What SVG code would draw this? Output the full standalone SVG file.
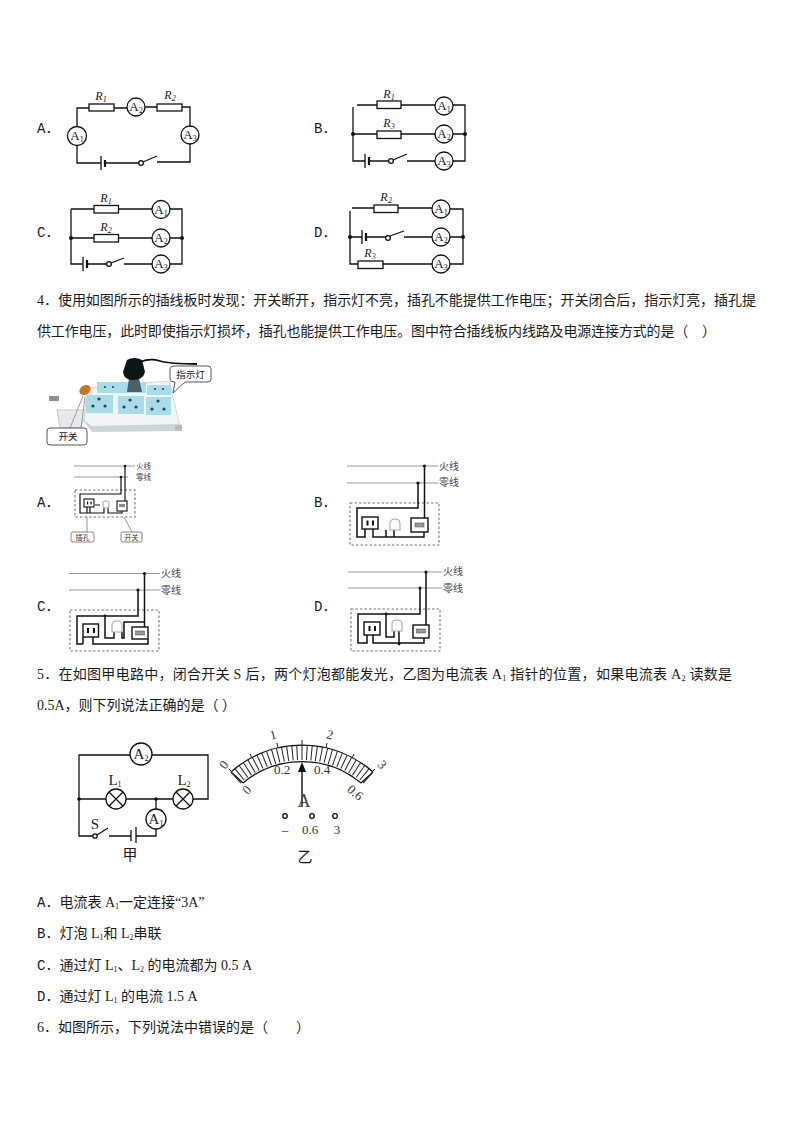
<svg xmlns="http://www.w3.org/2000/svg" width="794" height="1123" viewBox="0 0 794 1123">
<style>
text{fill:#1a1a1a}
.t{font-family:"Liberation Serif","Noto Sans CJK SC",serif;font-size:14px}
.s{font-family:"Liberation Serif","Noto Sans CJK SC",serif;font-size:15px}
.opt{font-family:"Liberation Mono","Noto Sans CJK SC",monospace;font-size:14px}
.w{fill:none;stroke:#111;stroke-width:1.3}
.r{fill:#fff;stroke:#111;stroke-width:1.3}
.m{fill:#fff;stroke:#111;stroke-width:1.3}
.lab{font-family:"Liberation Serif",serif;font-size:13px;text-anchor:middle}
.it{font-family:"Liberation Serif",serif;font-size:12px;font-style:italic;text-anchor:middle}
.sub{font-size:8px}
.d{fill:#111}
.g{fill:none;stroke:#999;stroke-width:1.2}
.b{fill:none;stroke:#111;stroke-width:1.5}
.box{fill:none;stroke:#777;stroke-width:1.1;stroke-dasharray:2.5 2}
.sk{fill:#fff;stroke:#111;stroke-width:1.4}
.lamp{fill:#fff;stroke:#aaa;stroke-width:1.1}
.c{font-family:"Noto Sans CJK SC",sans-serif;font-size:10px;fill:#444}
.c2{font-family:"Noto Sans CJK SC",sans-serif;font-size:7px;fill:#333;text-anchor:middle}
.tick{stroke:#222;stroke-width:1}
.ml{font-family:"Liberation Serif",serif;font-size:13px;text-anchor:middle;fill:#333}
.call{fill:#fff;stroke:#555;stroke-width:1}
.pin{fill:#111}
</style>
<defs>
<filter id="soft"><feGaussianBlur stdDeviation="0.5"/></filter>
</defs>
<rect width="794" height="1123" fill="#fff"/>

<g id="circuit-a">
<path class="w" d="M77 126V108H89M114 108H127M145 107H157M182 107H190V126M190 144V162H157M157 156L143 162M139 163H105M101 163H77V146"/>
<path class="w" d="M101 156V170"/><path d="M105 160V167" stroke="#111" stroke-width="2.200"/>
<rect class="r" x="89" y="104" width="25" height="7"/><rect class="r" x="157" y="104" width="25" height="7"/>
<circle class="m" cx="77" cy="136" r="9.500"/><circle class="m" cx="136" cy="107" r="9"/><circle class="m" cx="190" cy="135" r="9"/><circle class="m" cx="141" cy="163" r="2.400"/>
<text class="it" x="101" y="100">R<tspan class="sub" dy="2">1</tspan></text><text class="it" x="170" y="99">R<tspan class="sub" dy="2">2</tspan></text>
<text class="lab" x="77" y="140">A<tspan class="sub" dy="2">1</tspan></text><text class="lab" x="136" y="111">A<tspan class="sub" dy="2">2</tspan></text><text class="lab" x="190" y="139">A<tspan class="sub" dy="2">3</tspan></text>
</g>

<g id="circuit-b">
<path class="w" d="M357 105H377M401 105H435M453 105H465V161H453M353 107V161H365M369 161H389M393 160L407 154M407 161H435M353 134H377M401 134H435M453 134H465"/>
<path class="w" d="M365 154V168"/><path d="M369 157V165" stroke="#111" stroke-width="2.200"/>
<rect class="r" x="377" y="101" width="24" height="7.500"/><rect class="r" x="377" y="131" width="24" height="7.500"/>
<circle class="m" cx="444" cy="106" r="9"/><circle class="m" cx="444" cy="134" r="9"/><circle class="m" cx="444" cy="161" r="9"/><circle class="m" cx="391" cy="161" r="2.400"/>
<circle class="d" cx="353" cy="134" r="2"/><circle class="d" cx="465" cy="134" r="2"/>
<text class="it" x="389" y="98">R<tspan class="sub" dy="2">1</tspan></text><text class="it" x="389" y="127">R<tspan class="sub" dy="2">3</tspan></text>
<text class="lab" x="444" y="110">A<tspan class="sub" dy="2">1</tspan></text><text class="lab" x="444" y="138">A<tspan class="sub" dy="2">2</tspan></text><text class="lab" x="444" y="165">A<tspan class="sub" dy="2">3</tspan></text>
</g>

<g id="circuit-c">
<path class="w" d="M71 209H94M118 209H152M170 209H182V264H170M71 209V264H83M87 264H107M111 263L124 258M124 264H152M71 238H94M118 238H152M170 238H182"/>
<path class="w" d="M83 257V271"/><path d="M87 260V268" stroke="#111" stroke-width="2.200"/>
<rect class="r" x="94" y="205.500" width="24.500" height="7.500"/><rect class="r" x="94" y="234.500" width="24.500" height="7.500"/>
<circle class="m" cx="161" cy="209.500" r="9"/><circle class="m" cx="161" cy="238" r="9"/><circle class="m" cx="161" cy="264" r="9"/><circle class="m" cx="109" cy="264" r="2.400"/>
<circle class="d" cx="71" cy="238" r="2"/><circle class="d" cx="182" cy="238" r="2"/>
<text class="it" x="106" y="202">R<tspan class="sub" dy="2">1</tspan></text><text class="it" x="106" y="231">R<tspan class="sub" dy="2">2</tspan></text>
<text class="lab" x="161" y="213.500">A<tspan class="sub" dy="2">1</tspan></text><text class="lab" x="161" y="242">A<tspan class="sub" dy="2">2</tspan></text><text class="lab" x="161" y="268">A<tspan class="sub" dy="2">3</tspan></text>
</g>

<g id="circuit-d">
<path class="w" d="M352 208H374M398 208H432M450 209H463V264H450M350 211V264H358M383 264H432M350 237H362M366 237H386M390 236L404 231M404 237H432M450 237H463"/>
<path class="w" d="M362 230V244"/><path d="M366 233V241" stroke="#111" stroke-width="2.200"/>
<rect class="r" x="374" y="205" width="24" height="7.500"/><rect class="r" x="358" y="261" width="25" height="7.500"/>
<circle class="m" cx="441" cy="209" r="9"/><circle class="m" cx="441" cy="237" r="9"/><circle class="m" cx="441" cy="264" r="9"/><circle class="m" cx="388" cy="238" r="2.400"/>
<circle class="d" cx="350" cy="237" r="2"/><circle class="d" cx="463" cy="237" r="2"/>
<text class="it" x="386" y="201">R<tspan class="sub" dy="2">2</tspan></text><text class="it" x="370" y="257">R<tspan class="sub" dy="2">3</tspan></text>
<text class="lab" x="441" y="213">A<tspan class="sub" dy="2">1</tspan></text><text class="lab" x="441" y="241">A<tspan class="sub" dy="2">2</tspan></text><text class="lab" x="441" y="268">A<tspan class="sub" dy="2">3</tspan></text>
</g>

<g id="option-labels-1">
<text class="opt" x="37" y="133">A．</text><text class="opt" x="314" y="133">B．</text><text class="opt" x="37" y="237">C．</text><text class="opt" x="314" y="237">D．</text>
</g>

<g id="question-4">
<text class="t" x="37" y="305" textLength="719">4．使用如图所示的插线板时发现：开关断开，指示灯不亮，插孔不能提供工作电压；开关闭合后，指示灯亮，插孔提</text>
<text class="t" x="37" y="336" textLength="679">供工作电压，此时即使指示灯损坏，插孔也能提供工作电压。图中符合插线板内线路及电源连接方式的是（　）</text>
</g>

<g id="power-strip">
<g filter="url(#soft)">
<path d="M57 410H88L80 428H60Z" fill="#e6eaea" stroke="#bbb" stroke-width=".8"/>
<rect x="49" y="396" width="10" height="5" fill="#8f8f8f"/>
<path d="M87 388L169 381L178 418L181 430L92 431L84 422Z" fill="#f0f5f6" stroke="#cfd6d8" stroke-width="1"/>
<path d="M84 420L92 426L181 424V431L92 432Z" fill="#cdd5d8"/>
<path d="M175 425H182V431H175Z" fill="#bbb"/>
<g fill="#a9dce8">
<rect x="97" y="382" width="26" height="11"/><rect x="122" y="382" width="24" height="11"/><rect x="147" y="385" width="24" height="10"/>
<rect x="86" y="395" width="27" height="18"/><rect x="118" y="396" width="26" height="18"/><rect x="146" y="397" width="25" height="18"/>
</g>
<g fill="#1f4a55">
<circle cx="99" cy="399" r="1.600"/><circle cx="93" cy="406" r="1.600"/><circle cx="105" cy="406" r="1.600"/>
<circle cx="130" cy="400" r="1.600"/><circle cx="124" cy="407" r="1.600"/><circle cx="136" cy="407" r="1.600"/>
<circle cx="158" cy="401" r="1.600"/><circle cx="152" cy="409" r="1.600"/><circle cx="164" cy="409" r="1.600"/>
<circle cx="105" cy="387" r="1.100"/><circle cx="113" cy="387" r="1.100"/><circle cx="155" cy="389" r="1.100"/><circle cx="163" cy="389" r="1.100"/>
</g>
<ellipse cx="85" cy="390" rx="6" ry="4.500" fill="#c87728" transform="rotate(-30 85 390)"/>
<path d="M127 392L129 378H139L142 392Z" fill="#4d5f66"/>
<path d="M127 360Q134 356 142 360L145 372Q143 380 133 380Q124 380 123 372Z" fill="#101214"/>
<path d="M140 362Q150 358 160 361T197 364" fill="none" stroke="#111" stroke-width="1.800"/>
</g>
<path class="call" d="M174 366H208Q211 366 211 369V379Q211 382 208 382H185L173 393L175 382H174Q170 382 170 379V369Q170 366 174 366Z"/>
<path d="M83 396L70 428M85 397L81 428" stroke="#888" stroke-width=".8" fill="none"/>
<rect class="call" x="47" y="428" width="40" height="17" rx="3"/>
<text class="t" x="190.500" y="378" style="font-size:9.500px" text-anchor="middle">指示灯</text>
<text class="t" x="68" y="440" style="font-size:9.500px" text-anchor="middle">开关</text>
</g>

<g id="wiring-a">
<path class="g" d="M74 466H135M74 477H128"/>
<rect class="box" x="75" y="490" width="60" height="27"/>
<path class="b" style="stroke-width:1.200" d="M125 466V501M121 477V494H80V513H87V507M87 513H92M90 507V513H104V507M108 507V513H122V511M95 505H100"/>
<circle class="d" cx="125" cy="466" r="1.300"/><circle class="d" cx="121" cy="477" r="1.300"/>
<rect class="sk" style="stroke-width:1.100" x="84" y="499" width="10" height="8"/>
<rect class="lamp" x="103" y="501" width="6" height="7" rx="2"/>
<rect class="sk" style="stroke-width:1.100" x="117" y="501" width="10" height="10"/><rect x="119" y="504" width="6" height="3" fill="#888"/>
<rect class="pin" x="87" y="501.500" width="1.200" height="3"/><rect class="pin" x="90.500" y="501.500" width="1.200" height="3"/>
<path d="M87 517V532M124 517L132 532" stroke="#666" stroke-width=".7" fill="none"/>
<rect class="call" style="stroke-width:.7" x="71" y="532" width="23" height="10" rx="2"/><rect class="call" style="stroke-width:.7" x="121" y="532" width="21" height="10" rx="2"/>
<text class="c2" x="82.500" y="540">插孔</text><text class="c2" x="131.500" y="540">开关</text>
<text class="c" x="136" y="469" style="font-size:7.500px">火线</text><text class="c" x="136" y="480" style="font-size:7.500px">零线</text>
</g>

<g id="wiring-b">
<path class="g" d="M347 466H438M347 483H438"/>
<rect class="box" x="350" y="503" width="89" height="42"/>
<path class="b" d="M424.500 466V518M418 483V508H357V537H365V529M373 529V537H424V532M386 537V530M394 537V530"/>
<circle class="d" cx="424.500" cy="466" r="1.600"/><circle class="d" cx="418" cy="483" r="1.600"/>
<rect class="sk" x="362" y="517" width="16" height="12"/><rect class="pin" x="366.500" y="520.500" width="2" height="5"/><rect class="pin" x="372" y="520.500" width="2" height="5"/>
<path class="lamp" d="M390 530V524Q390 519 395 519Q400 519 400 524V530Z"/>
<rect class="sk" x="411" y="518" width="17" height="14"/><rect x="415" y="523" width="9" height="4" fill="#999" stroke="#444" stroke-width=".5"/>
<text class="c" x="439" y="470">火线</text><text class="c" x="439" y="486">零线</text>
</g>

<g id="wiring-c">
<path class="g" d="M69 573.500H160M69 590H160"/>
<rect class="box" x="70" y="610" width="89" height="41"/>
<path class="b" d="M144.500 573.500V627M138 590V616H77V644H83M83 637V644M93 637V644H148V639M105 616V638H114V632M122 632V638H124V622H144"/>
<circle class="d" cx="144.500" cy="573.500" r="1.600"/><circle class="d" cx="138" cy="590" r="1.600"/><circle class="d" cx="105" cy="616" r="1.400"/>
<rect class="sk" x="83" y="624" width="15.500" height="13"/><rect class="pin" x="87" y="628" width="2" height="5"/><rect class="pin" x="93" y="628" width="2" height="5"/>
<path class="lamp" d="M112 632V625Q112 621 117 621Q122 621 122 625V632Z"/>
<rect class="sk" x="132" y="627" width="16" height="12"/><rect x="135.500" y="631" width="9" height="4" fill="#999" stroke="#444" stroke-width=".5"/>
<text class="c" x="161" y="577">火线</text><text class="c" x="161" y="594">零线</text>
</g>

<g id="wiring-d">
<path class="g" d="M348 572H442M348 588H442"/>
<rect class="box" x="351" y="609" width="89" height="42"/>
<path class="b" d="M426 572V625M420 588V614H358V643H367V635M373 635V643H424V638M386 614V637H394V630M399 630V644"/>
<circle class="d" cx="426" cy="572" r="1.600"/><circle class="d" cx="420" cy="588" r="1.600"/><circle class="d" cx="386" cy="614" r="1.400"/><circle class="d" cx="399" cy="644" r="1.400"/>
<rect class="sk" x="364" y="622" width="16" height="13"/><rect class="pin" x="368.500" y="626" width="2" height="5"/><rect class="pin" x="374" y="626" width="2" height="5"/>
<path class="lamp" d="M392 631V624Q392 620 397 620Q402 620 402 624V631Z"/>
<rect class="sk" x="413" y="625" width="16" height="13"/><rect x="416.500" y="629" width="9" height="4" fill="#999" stroke="#444" stroke-width=".5"/>
<text class="c" x="443" y="575">火线</text><text class="c" x="443" y="592">零线</text>
</g>

<g id="option-labels-2">
<text class="opt" x="37" y="507">A．</text><text class="opt" x="314" y="507">B．</text><text class="opt" x="37" y="611">C．</text><text class="opt" x="314" y="611">D．</text>
</g>

<g id="question-5">
<text class="t" x="37" y="679" textLength="695">5．在如图甲电路中，闭合开关 S 后，两个灯泡都能发光，乙图为电流表 A<tspan class="sub" dy="2">1</tspan><tspan dy="-2"> 指针的位置，如果电流表 A</tspan><tspan class="sub" dy="2">2</tspan><tspan dy="-2"> 读数是</tspan></text>
<text class="t" x="37" y="710">0.5A，则下列说法正确的是（ ）</text>
</g>

<g id="circuit-jia">
<path class="w" d="M130 755H79V836H93M152 755H208V799H193M173 799H126M106 799H79M156 799V809M156 829V836H136M131 836H109M97 835L108 828"/>
<path class="w" d="M136 827V843M131 830V841"/>
<circle class="m" cx="141" cy="754" r="11"/><circle class="m" cx="116" cy="799" r="10"/><circle class="m" cx="183" cy="799" r="10"/><circle class="m" cx="156" cy="819" r="10"/><circle class="m" cx="95" cy="836" r="2.200"/>
<path class="w" d="M109 792L123 806M123 792L109 806M176 792L190 806M190 792L176 806"/>
<circle class="d" cx="79" cy="799" r="1.800"/><circle class="d" cx="156" cy="799" r="1.800"/>
<text class="s" x="141" y="759" text-anchor="middle">A<tspan class="sub" dy="2">2</tspan></text>
<text class="s" x="156" y="824" text-anchor="middle">A<tspan class="sub" dy="2">1</tspan></text>
<text class="s" x="115" y="785" text-anchor="middle">L<tspan class="sub" dy="2">1</tspan></text>
<text class="s" x="184" y="785" text-anchor="middle">L<tspan class="sub" dy="2">2</tspan></text>
<text class="s" x="95" y="829" text-anchor="middle">S</text>
<text class="t" x="130" y="860" text-anchor="middle" style="font-size:15px">甲</text>
</g>

<g id="meter-yi">
<path class="w" d="M231 772A107 107 0 0 1 373 772M243 783A92 92 0 0 1 361 783M231 772L243 783M373 772L361 783"/>
<g class="tick">
<path id="tk" d="M302 745V760"/>
<use href="#tk" transform="rotate(-41.6 302 852)"/><use href="#tk" transform="rotate(-38.8 302 852)"/><use href="#tk" transform="rotate(-36 302 852)"/><use href="#tk" transform="rotate(-33.3 302 852)"/><use href="#tk" transform="rotate(-30.5 302 852)"/><use href="#tk" transform="rotate(-27.7 302 852)"/><use href="#tk" transform="rotate(-25 302 852)"/><use href="#tk" transform="rotate(-22.2 302 852)"/><use href="#tk" transform="rotate(-19.4 302 852)"/><use href="#tk" transform="rotate(-16.6 302 852)"/><use href="#tk" transform="rotate(-13.9 302 852)"/><use href="#tk" transform="rotate(-11.1 302 852)"/><use href="#tk" transform="rotate(-8.3 302 852)"/><use href="#tk" transform="rotate(-5.5 302 852)"/><use href="#tk" transform="rotate(-2.8 302 852)"/><use href="#tk" transform="rotate(2.8 302 852)"/><use href="#tk" transform="rotate(5.5 302 852)"/><use href="#tk" transform="rotate(8.3 302 852)"/><use href="#tk" transform="rotate(11.1 302 852)"/><use href="#tk" transform="rotate(13.9 302 852)"/><use href="#tk" transform="rotate(16.6 302 852)"/><use href="#tk" transform="rotate(19.4 302 852)"/><use href="#tk" transform="rotate(22.2 302 852)"/><use href="#tk" transform="rotate(25 302 852)"/><use href="#tk" transform="rotate(27.7 302 852)"/><use href="#tk" transform="rotate(30.5 302 852)"/><use href="#tk" transform="rotate(33.3 302 852)"/><use href="#tk" transform="rotate(36 302 852)"/><use href="#tk" transform="rotate(38.8 302 852)"/><use href="#tk" transform="rotate(41.6 302 852)"/>
<path d="M302 740V745M277 743L278 748M327 743L326 748M250 754L252 758M354 754L352 758M229 769L232 772M375 769L372 772"/>
</g>
<path d="M302 807V772" stroke="#111" stroke-width="1.400"/><path d="M302 762L306 772H298Z" fill="#111"/>
<text class="ml" x="224" y="769" transform="rotate(-50 224 765)">0</text>
<text class="ml" x="273" y="739" transform="rotate(-15 273 735)">1</text>
<text class="ml" x="330" y="739" transform="rotate(15 330 735)">2</text>
<text class="ml" x="382" y="769" transform="rotate(50 382 765)">3</text>
<text class="ml" x="247" y="794" transform="rotate(-45 247 790)">0</text>
<text class="ml" x="282" y="774">0.2</text>
<text class="ml" x="322" y="774">0.4</text>
<text class="ml" x="355" y="797" transform="rotate(40 355 793)">0.6</text>
<text class="ml" x="304" y="807" style="font-size:18px;fill:#444">A</text>
<circle class="m" cx="285" cy="816" r="2.300"/><circle class="m" cx="312" cy="816" r="2.300"/><circle class="m" cx="335" cy="816" r="2.300"/>
<text class="ml" x="285" y="834">–</text><text class="ml" x="310" y="834">0.6</text><text class="ml" x="337" y="834">3</text>
<text class="t" x="305" y="862" text-anchor="middle" style="font-size:15px">乙</text>
</g>

<g id="answers-5">
<text class="t" x="37" y="907"><tspan class="opt">A．</tspan>电流表 A<tspan class="sub" dy="2">1</tspan><tspan dy="-2">一定连接“3A”</tspan></text>
<text class="t" x="37" y="938"><tspan class="opt">B．</tspan>灯泡 L<tspan class="sub" dy="2">1</tspan><tspan dy="-2">和 L</tspan><tspan class="sub" dy="2">2</tspan><tspan dy="-2">串联</tspan></text>
<text class="t" x="37" y="970"><tspan class="opt">C．</tspan>通过灯 L<tspan class="sub" dy="2">1</tspan><tspan dy="-2">、L</tspan><tspan class="sub" dy="2">2</tspan><tspan dy="-2"> 的电流都为 0.5 A</tspan></text>
<text class="t" x="37" y="1001"><tspan class="opt">D．</tspan>通过灯 L<tspan class="sub" dy="2">1</tspan><tspan dy="-2"> 的电流 1.5 A</tspan></text>
</g>
<g id="question-6">
<text class="t" x="37" y="1032">6．如图所示，下列说法中错误的是（　　）</text>
</g>
</svg>
